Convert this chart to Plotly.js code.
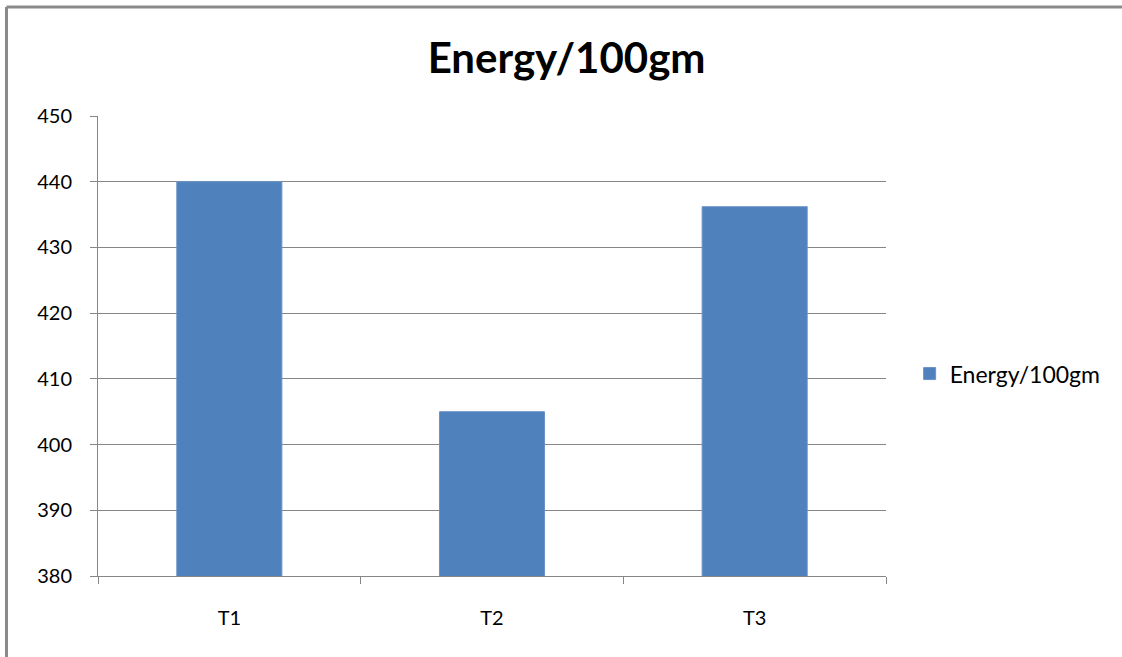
<!DOCTYPE html>
<html>
<head>
<meta charset="utf-8">
<script src="https://cdn.plot.ly/plotly-3.0.1.min.js"></script>
<style>
  html, body { margin: 0; padding: 0; background: #fff; overflow: hidden; }
  #chart { width: 1122px; height: 657px; }
</style>
</head>
<body>
<div id="chart"></div>
<script>
const categories = ["T1", "T2", "T3"];
const energyValues = [440, 405, 436.2];
const seriesName = "Energy/100gm";
const chartTitle = "Energy/100gm";
const yTicks = [380, 390, 400, 410, 420, 430, 440, 450];

const font = "Lato, 'Open Sans', sans-serif";

const trace = {
  type: "bar",
  x: categories,
  y: energyValues,
  name: seriesName,
  marker: { color: "#4F81BD", line: { color: "#6a93c8", width: 1 } },
  showlegend: true
};

const frameColor = "#8a8a8a";
const layout = {
  width: 1122,
  height: 657,
  margin: { l: 98, r: 236, t: 116, b: 81 },
  paper_bgcolor: "#fff",
  plot_bgcolor: "#fff",
  bargap: 0.6,
  font: { family: font, size: 20, color: "#000" },
  title: {
    text: "<b>" + chartTitle + "</b>",
    font: { family: font, size: 42, color: "#000" },
    x: 0.505, xref: "container", xanchor: "center",
    y: 1 - 58 / 657, yref: "container", yanchor: "middle"
  },
  xaxis: {
    type: "category",
    showline: true, linecolor: "#868686", linewidth: 1,
    ticks: "outside", ticklen: 7, tickcolor: "#868686",
    tickson: "boundaries",
    ticklabelstandoff: 24,
    showgrid: false,
    tickfont: { family: font, size: 20, color: "#000" }
  },
  yaxis: {
    range: [380, 450],
    tickvals: yTicks,
    ticktext: yTicks.map(String),
    showline: true, linecolor: "#868686", linewidth: 1,
    ticks: "outside", ticklen: 7, tickcolor: "#868686",
    ticklabelstandoff: 14,
    showgrid: true, gridcolor: "#868686", gridwidth: 1,
    zeroline: false,
    tickfont: { family: font, size: 20, color: "#000" }
  },
  legend: {
    x: 1.03, xanchor: "left",
    y: 0.44, yanchor: "middle",
    font: { family: font, size: 23, color: "#000" },
    itemwidth: 30
  },
  shapes: [
    { type: "line", xref: "paper", yref: "paper",
      x0: (6.5 - 98) / 788, x1: (1140 - 98) / 788,
      y0: (576 - 7) / 460, y1: (576 - 7) / 460,
      line: { color: frameColor, width: 3 } },
    { type: "line", xref: "paper", yref: "paper",
      x0: (6.5 - 98) / 788, x1: (6.5 - 98) / 788,
      y0: (576 - 7) / 460, y1: (576 - 670) / 460,
      line: { color: frameColor, width: 3 } }
  ]
};

Plotly.newPlot("chart", [trace], layout, { displayModeBar: false, staticPlot: true });
</script>
</body>
</html>
